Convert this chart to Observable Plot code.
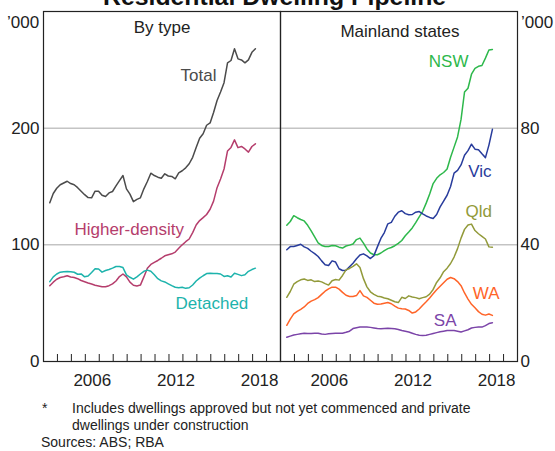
<!DOCTYPE html>
<html><head><meta charset="utf-8">
<script src="https://cdn.jsdelivr.net/npm/d3@7"></script>
<script src="https://cdn.jsdelivr.net/npm/@observablehq/plot@0.6"></script>
<style>
html,body{margin:0;padding:0;background:#fff;}
#chart{position:relative;width:555px;height:451px;overflow:hidden;font-family:"Liberation Sans",Arial,sans-serif;}
#chart svg{position:absolute;top:0;overflow:visible;}
</style></head><body><div id="chart"></div>
<script>
// ---- Data (quarterly, '000 dwellings) ----
const firstQuarter = 2003.45;   // decimal year of first observation
const quarterStep = 0.25;

const total = [136,144,148.5,151.5,153,154.5,152.5,151.5,149,146,143,140.5,140.3,146,146,142.5,141.4,144.5,145.7,150.5,155,159.4,148,143.5,137,139,140.3,148,154.3,161.4,159.4,158,157.1,160.9,159,158.6,156.6,161.7,163.5,166,169.5,175,183.5,191.4,195.2,202.5,204.5,213.5,223.7,231,239,256,258,268,259.4,258.5,256,258.5,265,268];
const higherDensity = [65,68,70.5,72,72.6,73.5,72.5,72,71,69.4,68.4,67.3,66.4,65.4,64.7,64,64,65,66.5,69,72.8,75,72.5,68,65.3,64.8,65.5,72.5,80,83.2,85,86.6,88.5,90.6,91.5,92.3,93.8,97,100,102.7,105,110.5,117,120.8,123.3,126,130.5,137.5,149,156.5,165,180.5,183.5,190,183.3,184.3,182.2,179.5,184.3,186.6];
const detached = [68.5,72.5,75,76.6,77,77.1,77,76.5,74.8,75.1,72.6,73.3,76.3,79.5,79.3,76.6,78,78.9,80,81.4,81.4,80.5,74.2,72.2,70.6,72.5,75,77.3,78.3,77.3,74.3,71,69.1,68.2,66.6,65,63.6,63.3,63.7,62.7,63.2,65.6,69,71.5,73.5,75.4,75.7,75.4,75.4,75,72.9,73.5,72.4,75.6,74.7,73.6,74.4,77.3,78.8,80];

const nsw = [46.7,48,50,49.3,48.7,48.2,46.7,44.8,42.7,40.7,39.8,39.4,39.4,39.8,39.7,39.2,38.9,39.6,39.9,40.3,41.8,42.3,40.6,38.6,37.2,36.6,36.6,37.2,38,38.7,39.1,39.7,40.5,41.5,43.1,44.4,45.8,47.6,49.6,51.5,54.3,57.4,61,62.8,64,64.8,66,70,73.5,77,83,92.4,93.7,98.5,100.5,101.2,101.5,104,106.8,107];
const vic = [38.3,39.4,39.4,39.8,40.2,39.3,38.8,37.8,37,36,34.5,33.2,32.9,34.5,34.1,31.8,31.2,31.3,32.5,33.7,35.2,36.5,36.9,36.2,35.3,36.3,39.3,42.2,44.2,47.2,47.7,49.8,51.2,51.7,50.7,50.3,50.4,51.2,51.4,50.6,49.9,49.4,49,50.4,53,55,57,60,64.6,65.5,67.4,70.7,72.3,74.5,72.8,72.6,71.2,69.9,74.2,79.6];
const qld = [22,24,26.5,27.4,28,28.3,27.8,28,27.4,27.6,27.3,26.7,26.2,27.7,28.1,27.9,29.5,31.4,31.9,32.6,33.5,32.2,28.4,25.6,23.9,23,22.4,22.2,21.8,21.5,21,20.5,20.2,22,21.6,22.5,22.1,21.9,21.5,21.9,22.2,23.1,24.7,27.1,28.7,30.8,32,33.6,35.8,38.7,42.3,45.3,46.8,47.1,44.9,43.8,42.9,42,39.3,39.2];
const wa = [12.4,14.5,16.3,17.2,17.9,18.7,19.9,20.7,21.2,21.9,23,24.1,24.9,25.5,25.5,24.8,23.7,22.7,22.3,22.3,22.6,24.3,22.5,22,21,20,19.6,19.7,20,20.2,19.8,19,18.3,18.1,18,17.5,16.6,17,18,19.3,20.5,21.8,23.2,24.6,25.8,27,28.2,28.8,28.4,27.4,26,23.5,21.4,19.6,18.4,17.1,16.2,15.9,16.3,15.8];
const sa = [8.3,8.7,9.1,9.3,9.5,9.7,9.6,9.6,9.7,9.7,9.4,9.3,9.5,9.6,9.7,9.7,9.7,10,10.4,11.3,11.6,11.8,11.8,11.8,11.7,11.5,11.3,11.2,11.3,11.4,11.3,11.2,11,10.6,10.4,10.1,9.7,9.3,9,8.9,9,9.3,9.6,9.9,10.2,10.4,10.6,10.6,10.6,10.4,10.1,10.5,10.9,11.5,11.7,11.8,11.8,12.3,13,13.3];

// ---- Axes ----
const xDomain = [2003, 2020];
const yearTicks = [2004,2005,2006,2007,2008,2009,2010,2011,2012,2013,2014,2015,2016,2017,2018,2019];
const yearLabels = [2006, 2012, 2018];
const leftDomain = [0, 300];
const leftTicks = [0, 100, 200];
const leftGrid = [100, 200];
const rightDomain = [0, 120];
const rightTicks = [0, 40, 80];
const rightGrid = [40, 80];

// ---- Series definitions & label anchors ----
const leftSeries = [
  {name: "Total", values: total, color: "#4b4b4b", lt: 2012.83, lv: 240.5},
  {name: "Higher-density", values: higherDensity, color: "#b53d6c", lt: 2005.22, lv: 108.4},
  {name: "Detached", values: detached, color: "#1db3ac", lt: 2012.47, lv: 45.4}
];
const rightSeries = [
  {name: "NSW", values: nsw, color: "#2db84b", lt: 2013.64, lv: 101.1},
  {name: "Vic", values: vic, color: "#283c9c", lt: 2016.46, lv: 63.3},
  {name: "Qld", values: qld, color: "#929a3a", lt: 2016.27, lv: 49.7},
  {name: "WA", values: wa, color: "#ff6428", lt: 2016.79, lv: 21.6},
  {name: "SA", values: sa, color: "#7b44a8", lt: 2014.0, lv: 12.3}
];

const toRows = (s) => s.values.map((v, i) => ({t: firstQuarter + i * quarterStep, v}));

const style = {fontFamily: '"Liberation Sans", Arial, sans-serif', fontSize: "17px", color: "#222", background: "transparent", overflow: "visible"};
const H = 400, MT = 11, MB = 39;
const tickLen = 7;
const innerH = H - MT - MB;

function panel({width, marginLeft, marginRight, yDomain, yTicks, grid, series, anchor}) {
  const marks = [
    Plot.ruleY(grid, {stroke: "#a6a6a6", strokeWidth: 1}),
    Plot.tickX(yearTicks, {x: d => d, stroke: "#222", strokeWidth: 1, insetTop: innerH - tickLen}),
    ...series.map(s => Plot.line(toRows(s), {x: "t", y: "v", stroke: s.color, strokeWidth: 1.5})),
    ...series.map(s => Plot.text([s], {x: "lt", y: "lv", text: "name", fill: s.color, textAnchor: "start", lineAnchor: "bottom", fontSize: 17})),
    Plot.axisY({anchor, ticks: yTicks, tickSize: 0, tickPadding: anchor === "left" ? 4 : 3, label: null, fontSize: 17}),
    Plot.axisX({ticks: yearLabels.map(y => y + 0.5), tickSize: 0, tickPadding: 12, tickFormat: d => String(Math.floor(d)), label: null, fontSize: 17}),
    Plot.frame({stroke: "#222", strokeWidth: 1.2})
  ];
  return Plot.plot({
    width, height: H, marginTop: MT, marginBottom: MB, marginLeft, marginRight,
    x: {domain: xDomain},
    y: {domain: yDomain},
    style,
    marks
  });
}

const chart = document.getElementById("chart");
const leftPlot = panel({width: 281, marginLeft: 43, marginRight: 1, yDomain: leftDomain, yTicks: leftTicks, grid: leftGrid, series: leftSeries, anchor: "left"});
leftPlot.style.left = "0px";
const rightPlot = panel({width: 275, marginLeft: 0, marginRight: 38, yDomain: rightDomain, yTicks: rightTicks, grid: rightGrid, series: rightSeries, anchor: "right"});
rightPlot.style.left = "280px";
chart.appendChild(leftPlot);
chart.appendChild(rightPlot);

// ---- Text overlay: title, units, panel titles, notes ----
const NS = "http://www.w3.org/2000/svg";
const ov = document.createElementNS(NS, "svg");
ov.setAttribute("width", 555); ov.setAttribute("height", 451);
ov.style.left = "0px"; ov.style.pointerEvents = "none";
chart.appendChild(ov);
function addText(str, x, y, opts = {}) {
  const t = document.createElementNS(NS, "text");
  t.setAttribute("x", x); t.setAttribute("y", y);
  t.setAttribute("font-family", '"Liberation Sans", Arial, sans-serif');
  t.setAttribute("font-size", opts.size || 17);
  t.setAttribute("fill", opts.fill || "#222");
  if (opts.weight) t.setAttribute("font-weight", opts.weight);
  if (opts.anchor) t.setAttribute("text-anchor", opts.anchor);
  t.textContent = str;
  ov.appendChild(t);
  return t;
}
const title = addText("Residential Dwelling Pipeline", 103, 5, {size: 24.8, weight: "bold", fill: "#111"});
const star = document.createElementNS(NS, "tspan"); star.setAttribute("dy", "-9"); star.setAttribute("font-size", "16"); star.textContent = "*"; title.appendChild(star);
addText("\u2019000", 7, 27.5);
addText("\u2019000", 521, 27.5);
addText("By type", 162, 33, {anchor: "middle"});
addText("Mainland states", 400, 37, {anchor: "middle"});
addText("*", 42, 413, {size: 14});
addText("Includes dwellings approved but not yet commenced and private", 72, 413, {size: 14});
addText("dwellings under construction", 72, 430, {size: 14});
addText("Sources: ABS; RBA", 41, 447, {size: 14});
</script></body></html>
